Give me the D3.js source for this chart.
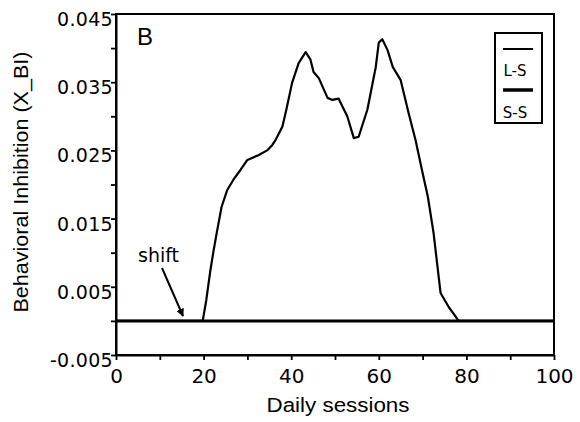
<!DOCTYPE html>
<html>
<head>
<meta charset="utf-8">
<script src="https://cdn.jsdelivr.net/npm/d3@7"></script>
<style>
  body { margin: 0; background: #fff; }
</style>
</head>
<body>
<div id="chart"></div>
<script>

// L-S curve (session, value)
var sessions = [0, 19.8, 20.6, 21.5, 22.2, 23.0, 24.1, 25.4, 26.8, 28.5, 30, 32.5, 34.5, 35.7, 36.4, 38, 38.9,
                40.2, 41.7, 43.3, 44.4, 45.1, 46.3, 48.3, 49.4, 50.8, 52.8, 54.3, 55.4, 57.4, 59.3, 60, 60.8,
                62, 63.2, 65, 66.8, 68.4, 70, 71.2, 72.5, 74.1, 76, 77.6, 78.2, 100];
var lsValues = [0, 0, 0.003, 0.0072, 0.0100, 0.0129, 0.0167, 0.0192, 0.0207, 0.0222, 0.0236, 0.0243, 0.0250, 0.0258, 0.0265, 0.0285, 0.0310,
                0.0349, 0.0378, 0.0394, 0.0383, 0.0365, 0.0356, 0.0327, 0.0324, 0.0326, 0.0300, 0.0268, 0.0270, 0.0310, 0.0372, 0.0408, 0.0413,
                0.0397, 0.0372, 0.0353, 0.0305, 0.0265, 0.0217, 0.0182, 0.0129, 0.0041, 0.0020, 0.0006, 0, 0];

// S-S stays flat at zero
var ssSessions = [0, 100];
var ssValues = [0, 0];

var xTicks = [0, 20, 40, 60, 80, 100];
var xMinorTicks = [10, 30, 50, 70, 90];
var yTicks = [-0.005, 0.005, 0.015, 0.025, 0.035, 0.045];
var yMinorTicks = [0, 0.01, 0.02, 0.03, 0.04];

var legendLabels = ["L-S", "S-S"];

function init(){

    var w = 580;
    var h = 422;

    var svg = d3.select("#chart")
                .append("svg")
                .attr("width", w)
                .attr("height", h);

    var x = d3.scaleLinear().domain([0, 100]).range([116, 554]);
    var y = d3.scaleLinear().domain([-0.005, 0.045]).range([355, 14]);

    // frame
    svg.append("rect")
        .attr("x", x(0))
        .attr("y", y(0.045))
        .attr("width", x(100) - x(0))
        .attr("height", y(-0.005) - y(0.045))
        .attr("fill", "none")
        .attr("stroke", "#000")
        .attr("stroke-width", 2);

    // minor ticks
    svg.append("g")
        .attr("transform", "translate(0," + y(-0.005) + ")")
        .call(d3.axisBottom(x).tickValues(xMinorTicks).tickSize(5).tickFormat(""))
        .call(function(g){ g.select(".domain").remove(); })
        .selectAll("line").attr("stroke-width", 1.8);

    svg.append("g")
        .attr("transform", "translate(" + x(0) + ",0)")
        .call(d3.axisLeft(y).tickValues(yMinorTicks).tickSize(5).tickFormat(""))
        .call(function(g){ g.select(".domain").remove(); })
        .selectAll("line").attr("stroke-width", 1.8);

    // x axis
    var xAxis = svg.append("g")
        .attr("transform", "translate(0," + y(-0.005) + ")")
        .call(d3.axisBottom(x).tickValues(xTicks).tickSize(5).tickPadding(9).tickSizeOuter(0));
    xAxis.select(".domain").attr("stroke-width", 2);
    xAxis.selectAll("line").attr("stroke-width", 1.8);
    xAxis.selectAll("text")
        .attr("font-family", "DejaVu Sans")
        .attr("font-size", "20px")
        .attr("fill", "#000");

    // y axis (plain hyphen for the minus sign, as in the original)
    var yAxis = svg.append("g")
        .attr("transform", "translate(" + x(0) + ",0)")
        .call(d3.axisLeft(y).tickValues(yTicks).tickSize(5).tickPadding(-2).tickSizeOuter(0)
            .tickFormat(function(d){ return d.toFixed(3); }));
    yAxis.select(".domain").attr("stroke-width", 2);
    yAxis.selectAll("line").attr("stroke-width", 1.8);
    yAxis.selectAll("text")
        .attr("dy", "0.6em")
        .attr("font-family", "DejaVu Sans")
        .attr("font-size", "19px")
        .attr("letter-spacing", "0.3px")
        .attr("fill", "#000");

    // S-S line
    var ssData = ssSessions.map(function(d, i){ return [d, ssValues[i]]; });
    var lsData = sessions.map(function(d, i){ return [d, lsValues[i]]; });

    var line = d3.line()
        .x(function(d){ return x(d[0]); })
        .y(function(d){ return y(d[1]); });

    svg.append("path")
        .datum(ssData)
        .attr("d", line)
        .attr("fill", "none")
        .attr("stroke", "#000")
        .attr("stroke-width", 3);

    svg.append("path")
        .datum(lsData)
        .attr("d", line)
        .attr("fill", "none")
        .attr("stroke", "#000")
        .attr("stroke-width", 2.2)
        .attr("stroke-linejoin", "round");

    // panel letter
    svg.append("text")
        .text("B")
        .attr("x", 137)
        .attr("y", 45)
        .attr("font-family", "Liberation Sans, Arial, sans-serif")
        .attr("font-size", "24px")
        .attr("fill", "#000");

    // shift annotation
    svg.append("defs").append("marker")
        .attr("id", "arrow")
        .attr("viewBox", "0 0 10 10")
        .attr("refX", 9)
        .attr("refY", 5)
        .attr("markerWidth", 8)
        .attr("markerHeight", 8)
        .attr("markerUnits", "userSpaceOnUse")
        .attr("orient", "auto")
        .append("path")
        .attr("d", "M0,0 L10,5 L0,10 z")
        .attr("fill", "#000");

    svg.append("line")
        .attr("x1", 162).attr("y1", 268)
        .attr("x2", 183).attr("y2", 316)
        .attr("stroke", "#000")
        .attr("stroke-width", 2)
        .attr("marker-end", "url(#arrow)");

    svg.append("text")
        .text("shift")
        .attr("x", 138)
        .attr("y", 262)
        .attr("font-family", "DejaVu Sans")
        .attr("font-size", "19px")
        .attr("fill", "#000");

    // legend
    var legend = svg.append("g");
    legend.append("rect")
        .attr("x", 495).attr("y", 33)
        .attr("width", 47).attr("height", 90)
        .attr("fill", "#fff")
        .attr("stroke", "#000")
        .attr("stroke-width", 2);

    legend.selectAll(".lg-line")
        .data(legendLabels)
        .enter()
        .append("line")
        .attr("x1", 503).attr("x2", 533)
        .attr("y1", function(d, i){ return 49 + i * 41; })
        .attr("y2", function(d, i){ return 49 + i * 41; })
        .attr("stroke", "#000")
        .attr("stroke-width", function(d, i){ return i == 0 ? 2 : 3.5; });

    legend.selectAll(".lg-text")
        .data(legendLabels)
        .enter()
        .append("text")
        .text(function(d){ return d; })
        .attr("x", 515)
        .attr("y", function(d, i){ return 76 + i * 42; })
        .attr("text-anchor", "middle")
        .attr("font-family", "DejaVu Sans")
        .attr("font-size", "15px")
        .attr("fill", "#000");

    // axis titles
    svg.append("text")
        .text("Daily sessions")
        .attr("x", 338)
        .attr("y", 412)
        .attr("text-anchor", "middle")
        .attr("font-family", "Liberation Sans, Arial, sans-serif")
        .attr("font-size", "20px")
        .attr("textLength", 143)
        .attr("lengthAdjust", "spacingAndGlyphs")
        .attr("fill", "#000");

    svg.append("text")
        .text("Behavioral Inhibition (X_BI)")
        .attr("transform", "translate(28,182) rotate(-90)")
        .attr("text-anchor", "middle")
        .attr("font-family", "Liberation Sans, Arial, sans-serif")
        .attr("font-size", "21px")
        .attr("textLength", 261)
        .attr("lengthAdjust", "spacingAndGlyphs")
        .attr("fill", "#000");
}

window.onload = init;
</script>
</body>
</html>
